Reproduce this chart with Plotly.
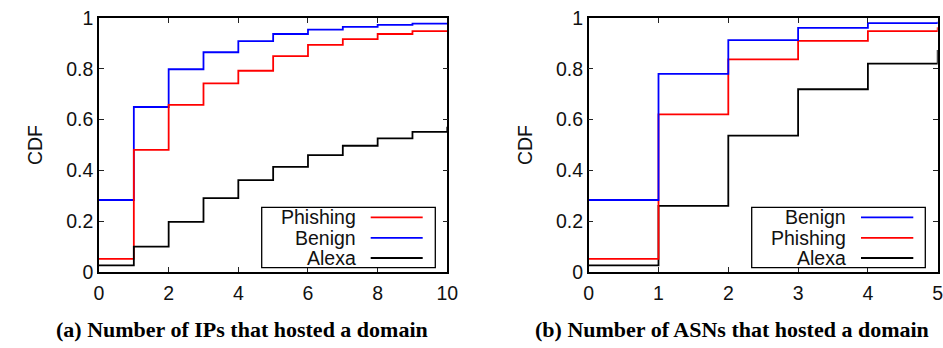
import plotly.graph_objects as go

W, H = 943, 348

# ---------------- data ----------------
ip_x = [0, 1, 2, 3, 4, 5, 6, 7, 8, 9, 10]
ip_phishing = [0.051, 0.481, 0.658, 0.743, 0.793, 0.851, 0.895, 0.918, 0.938, 0.949, 0.953]
ip_benign = [0.283, 0.650, 0.799, 0.866, 0.910, 0.938, 0.955, 0.966, 0.974, 0.979, 0.982]
ip_alexa = [0.025, 0.099, 0.197, 0.290, 0.361, 0.414, 0.460, 0.497, 0.526, 0.552, 0.572]

asn_x = [0, 1, 2, 3, 4, 5]
asn_benign = [0.283, 0.781, 0.914, 0.962, 0.981, 0.986]
asn_phishing = [0.051, 0.621, 0.838, 0.911, 0.949, 0.965]
asn_alexa = [0.025, 0.260, 0.537, 0.720, 0.821, 0.875]

y_ticks = [0, 0.2, 0.4, 0.6, 0.8, 1]
ip_ticks = [0, 2, 4, 6, 8, 10]
asn_ticks = [0, 1, 2, 3, 4, 5]

caption_a = "(a) Number of IPs that hosted a domain"
caption_b = "(b) Number of ASNs that hosted a domain"

RED, BLUE, BLACK = "#ff0000", "#0000ff", "#000000"

def px(x):
    return x / W

def py(y):
    return 1 - y / H

# plot areas in pixels
L1, R1 = 99, 447.3
L2, R2 = 588.7, 937.7
TOP, BOT = 18.3, 271.7

fig = go.Figure()

def add(x, y, color, xa, ya):
    fig.add_trace(go.Scatter(x=x, y=y, mode="lines", line=dict(color=color, width=1.8, shape="hv"),
                             xaxis=xa, yaxis=ya, showlegend=False, hoverinfo="skip"))

add(ip_x, ip_benign, BLUE, "x", "y")
add(ip_x, ip_phishing, RED, "x", "y")
add(ip_x, ip_alexa, BLACK, "x", "y")
add(asn_x, asn_alexa, BLACK, "x2", "y2")
add(asn_x, asn_phishing, RED, "x2", "y2")
add(asn_x, asn_benign, BLUE, "x2", "y2")

tickfont = dict(family="Liberation Sans, Arial, sans-serif", size=19.5, color="#111111")
axis_common = dict(showline=True, linecolor="black", linewidth=1.5, mirror="ticks",
                   ticks="inside", ticklen=5, tickwidth=1, tickcolor="#222222",
                   showgrid=False, zeroline=False, tickfont=tickfont, automargin=False,
                   ticklabeloverflow="allow")

fig.update_layout(
    width=W, height=H, margin=dict(l=0, r=0, t=0, b=0),
    paper_bgcolor="white", plot_bgcolor="white", showlegend=False,
    xaxis=dict(domain=[px(L1), px(R1)], range=[0, 10], tickvals=ip_ticks, anchor="y",
               ticklabelstandoff=3, **axis_common),
    yaxis=dict(domain=[py(BOT), py(TOP)], range=[0, 1], tickvals=y_ticks, anchor="x",
               title=dict(text="CDF", font=tickfont, standoff=18), **axis_common),
    xaxis2=dict(domain=[px(L2), px(R2)], range=[0, 5], tickvals=asn_ticks, anchor="y2",
                ticklabelstandoff=3, **axis_common),
    yaxis2=dict(domain=[py(BOT), py(TOP)], range=[0, 1], tickvals=y_ticks, anchor="x2",
                title=dict(text="CDF", font=tickfont, standoff=18), **axis_common),
)

shapes = []
annotations = []

def legend(box_l, box_r, text_r, line_l, line_r, entries):
    shapes.append(dict(type="rect", xref="paper", yref="paper",
                       x0=px(box_l), x1=px(box_r), y0=py(267.7), y1=py(207.3),
                       line=dict(color="black", width=1.3), fillcolor="white", layer="above"))
    rows = [217.3, 237.9, 258.0]
    for (name, color), yy in zip(entries, rows):
        annotations.append(dict(text=name, xref="paper", yref="paper", x=px(text_r), y=py(yy),
                                xanchor="right", yanchor="middle", showarrow=False,
                                font=tickfont))
        shapes.append(dict(type="line", xref="paper", yref="paper",
                           x0=px(line_l), x1=px(line_r), y0=py(yy), y1=py(yy),
                           line=dict(color=color, width=1.8), layer="above"))

legend(261.7, 435.3, 357.5, 370.7, 422.7, [("Phishing", RED), ("Benign", BLUE), ("Alexa", BLACK)])
legend(751.7, 925.3, 847.7, 861.0, 913.3, [("Benign", BLUE), ("Phishing", RED), ("Alexa", BLACK)])

capfont = dict(family="Liberation Serif, Times New Roman, serif", size=22, color="black")
annotations.append(dict(text="<b>%s</b>" % caption_a, xref="paper", yref="paper", x=px(241.7), y=py(329),
                        xanchor="center", yanchor="middle", showarrow=False, font=capfont))
annotations.append(dict(text="<b>%s</b>" % caption_b, xref="paper", yref="paper", x=px(731.7), y=py(329),
                        xanchor="center", yanchor="middle", showarrow=False, font=capfont))

fig.update_layout(shapes=shapes, annotations=annotations)
fig.write_html("out.html")
